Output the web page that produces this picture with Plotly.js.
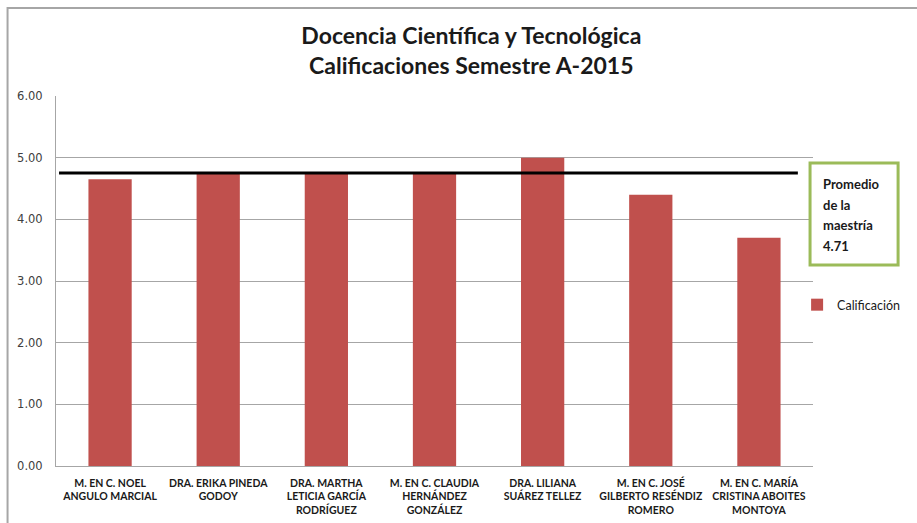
<!DOCTYPE html>
<html>
<head>
<meta charset="utf-8">
<script src="https://cdn.plot.ly/plotly-3.0.1.min.js"></script>
<style>
html,body{margin:0;padding:0;background:#fff;}
#chart{width:917px;height:523px;}
</style>
</head>
<body>
<div id="chart"></div>
<script>
// Data
var categories = [
  "M. EN C. NOEL<br>ANGULO MARCIAL",
  "DRA. ERIKA PINEDA<br>GODOY",
  "DRA. MARTHA<br>LETICIA GARCÍA<br>RODRÍGUEZ",
  "M. EN C. CLAUDIA<br>HERNÁNDEZ<br>GONZÁLEZ",
  "DRA. LILIANA<br>SUÁREZ TELLEZ",
  "M. EN C. JOSÉ<br>GILBERTO RESÉNDIZ<br>ROMERO",
  "M. EN C. MARÍA<br>CRISTINA ABOITES<br>MONTOYA"
];
var calificaciones = [4.65, 4.74, 4.74, 4.74, 5.00, 4.40, 3.70];
var seriesName = "Calificación";
var promedioLinea = 4.75;
var promedioLineas = ["Promedio", "de la", "maestría", "4.71"];
var yTicks = [0, 1, 2, 3, 4, 5, 6];

var idx = categories.map(function(_, i){ return i; });
var boldLabels = categories.map(function(c){ return "<b>" + c + "</b>"; });

var trace = {
  type: "bar",
  x: idx,
  y: calificaciones,
  name: seriesName,
  marker: {color: "#c0504d"},
  hoverinfo: "y"
};

// annotation box text lines
var lineY = [0.762, 0.706, 0.651, 0.595];
var boxAnnotations = promedioLineas.map(function(t, i){
  return {
    xref: "paper", yref: "paper",
    x: 1.0105, xanchor: "left",
    y: lineY[i], yanchor: "middle",
    text: "<b>" + t + "</b>",
    showarrow: false,
    font: {family: "Lato, sans-serif", size: 13, color: "#1a1a1a"}
  };
});

var layout = {
  width: 917,
  height: 523,
  paper_bgcolor: "#ffffff",
  plot_bgcolor: "#ffffff",
  margin: {l: 56, r: 96, t: 96, b: 57},
  bargap: 0.6,
  font: {family: "Lato, 'DejaVu Sans', sans-serif", color: "#1a1a1a"},
  title: {
    text: "<b>Docencia Científica y Tecnológica<br>Calificaciones Semestre A-2015</b>",
    font: {family: "Lato, sans-serif", size: 23, color: "#1a1a1a"},
    xref: "container", x: 0.514, xanchor: "center",
    yref: "container", y: 0.916, yanchor: "middle"
  },
  xaxis: {
    tickmode: "array",
    tickvals: idx,
    ticktext: boldLabels,
    range: [-0.5, categories.length - 0.5],
    showline: true,
    linecolor: "#a6a6a6",
    linewidth: 1,
    showgrid: false,
    zeroline: false,
    ticks: "",
    tickfont: {family: "Lato, sans-serif", size: 10.5, color: "#1a1a1a"},
    ticklabelstandoff: 7
  },
  yaxis: {
    range: [0, 6],
    tickmode: "array",
    tickvals: yTicks,
    tickformat: ".2f",
    showline: true,
    linecolor: "#a6a6a6",
    linewidth: 1,
    gridcolor: "#a6a6a6",
    gridwidth: 1,
    zeroline: false,
    ticks: "",
    tickfont: {family: "'DejaVu Sans', sans-serif", size: 11.5, color: "#404040"},
    ticklabelstandoff: 10
  },
  showlegend: true,
  legend: {
    x: 0.979, xanchor: "left",
    y: 0.435, yanchor: "middle",
    font: {family: "Lato, sans-serif", size: 12.5, color: "#1a1a1a"},
    itemwidth: 30,
    bgcolor: "rgba(0,0,0,0)"
  },
  shapes: [
    {
      type: "line", xref: "paper", yref: "y",
      x0: 0.004, x1: 0.98, y0: promedioLinea, y1: promedioLinea,
      line: {color: "#000000", width: 3}
    },
    {
      type: "rect", xref: "paper", yref: "paper",
      x0: 0.9961, x1: 1.1124, y0: 0.5432, y1: 0.8189,
      line: {color: "#9bbb59", width: 3},
      fillcolor: "#ffffff"
    },
    {
      type: "rect", xref: "paper", yref: "paper",
      x0: -0.064, x1: 1.3, y0: -0.5, y1: 1.238,
      line: {color: "#a6a6a6", width: 2},
      fillcolor: "rgba(0,0,0,0)"
    }
  ],
  annotations: boxAnnotations
};

Plotly.newPlot("chart", [trace], layout, {displayModeBar: false, staticPlot: true});
</script>
</body>
</html>
